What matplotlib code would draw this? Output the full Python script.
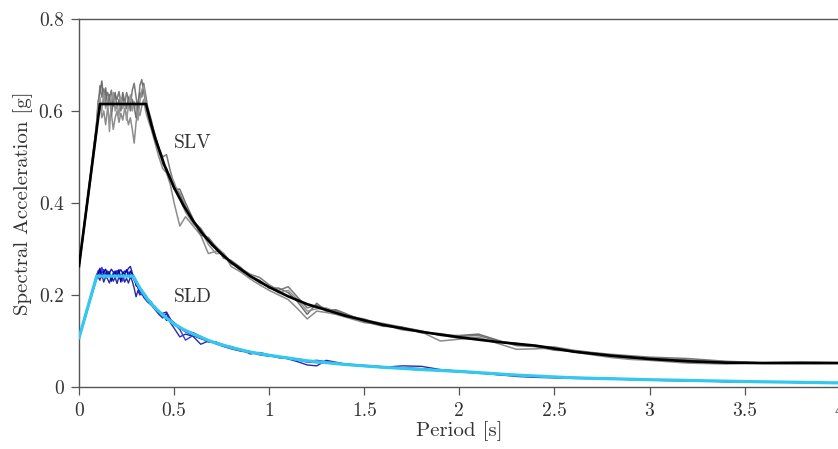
import matplotlib
matplotlib.use("Agg")
import matplotlib.pyplot as plt

plt.rcParams['font.family'] = ['cmr10', 'DejaVu Serif']
plt.rcParams['axes.formatter.use_mathtext'] = True
plt.rcParams['mathtext.fontset'] = 'cm'

# ---- period grid for the record spectra ----
periods = [0.00, 0.03, 0.06, 0.09,
           0.10, 0.11, 0.12, 0.13, 0.14, 0.15, 0.16, 0.17, 0.18, 0.19, 0.20, 0.21, 0.22, 0.23,
           0.24, 0.25, 0.26, 0.27, 0.28, 0.29, 0.30, 0.31, 0.32, 0.33, 0.34, 0.35, 0.36,
           0.38, 0.40, 0.42, 0.44, 0.46, 0.48, 0.50,
           0.53, 0.56, 0.60, 0.64, 0.68, 0.72, 0.76, 0.80,
           0.85, 0.90, 0.95, 1.00, 1.05, 1.10, 1.15, 1.20, 1.25, 1.30, 1.35, 1.40,
           1.50, 1.60, 1.70, 1.80, 1.90, 2.00,
           2.10, 2.20, 2.30, 2.40, 2.50, 2.60, 2.70, 2.80, 2.90, 3.00,
           3.20, 3.40, 3.60, 3.80, 4.00]

# ---- SLV records (gray) ----
slv_rec1 = [0.263, 0.360, 0.462, 0.565,
            0.600, 0.655, 0.630, 0.648, 0.620, 0.640, 0.628, 0.645, 0.610, 0.635, 0.625, 0.642, 0.618, 0.630,
            0.612, 0.640, 0.625, 0.610, 0.645, 0.660, 0.630, 0.600, 0.655, 0.668, 0.640, 0.620, 0.600,
            0.575, 0.548, 0.520, 0.500, 0.505, 0.470, 0.440,
            0.420, 0.392, 0.360, 0.345, 0.320, 0.305, 0.290, 0.268,
            0.258, 0.245, 0.238, 0.222, 0.210, 0.218, 0.195, 0.172, 0.178, 0.170, 0.166, 0.158,
            0.146, 0.138, 0.130, 0.118, 0.116, 0.110,
            0.112, 0.100, 0.092, 0.089, 0.087, 0.080, 0.075, 0.071, 0.068, 0.065,
            0.062, 0.056, 0.053, 0.054, 0.053]
slv_rec2 = [0.262, 0.352, 0.448, 0.545,
            0.590, 0.620, 0.585, 0.600, 0.570, 0.605, 0.580, 0.595, 0.560, 0.585, 0.600, 0.575, 0.595, 0.580,
            0.605, 0.590, 0.570, 0.585, 0.560, 0.530, 0.575, 0.600, 0.590, 0.610, 0.625, 0.600, 0.585,
            0.560, 0.530, 0.500, 0.475, 0.465, 0.440, 0.400,
            0.350, 0.370, 0.350, 0.330, 0.290, 0.295, 0.290, 0.262,
            0.250, 0.235, 0.222, 0.210, 0.200, 0.190, 0.170, 0.148, 0.165, 0.162, 0.158, 0.152,
            0.140, 0.136, 0.124, 0.120, 0.100, 0.104,
            0.108, 0.095, 0.082, 0.083, 0.085, 0.076, 0.070, 0.064, 0.060, 0.058,
            0.052, 0.050, 0.053, 0.055, 0.053]
slv_rec3 = [0.264, 0.365, 0.458, 0.560,
            0.620, 0.640, 0.665, 0.620, 0.650, 0.610, 0.635, 0.590, 0.620, 0.640, 0.605, 0.625, 0.600, 0.640,
            0.620, 0.605, 0.630, 0.600, 0.625, 0.610, 0.585, 0.620, 0.640, 0.630, 0.660, 0.635, 0.610,
            0.580, 0.545, 0.520, 0.485, 0.475, 0.455, 0.430,
            0.430, 0.400, 0.365, 0.330, 0.325, 0.305, 0.280, 0.275,
            0.260, 0.240, 0.232, 0.215, 0.215, 0.205, 0.185, 0.158, 0.182, 0.165, 0.168, 0.160,
            0.142, 0.132, 0.130, 0.122, 0.112, 0.112,
            0.115, 0.102, 0.090, 0.088, 0.080, 0.078, 0.074, 0.069, 0.066, 0.063,
            0.059, 0.055, 0.052, 0.053, 0.052]
slv_rec4 = [0.263, 0.355, 0.450, 0.555,
            0.610, 0.630, 0.600, 0.640, 0.605, 0.625, 0.555, 0.620, 0.640, 0.600, 0.615, 0.590, 0.630, 0.605,
            0.620, 0.580, 0.610, 0.635, 0.600, 0.620, 0.610, 0.580, 0.620, 0.645, 0.655, 0.625, 0.590,
            0.565, 0.540, 0.510, 0.490, 0.470, 0.460, 0.445,
            0.410, 0.380, 0.355, 0.340, 0.310, 0.290, 0.290, 0.272,
            0.252, 0.243, 0.226, 0.220, 0.205, 0.210, 0.190, 0.165, 0.170, 0.172, 0.162, 0.155,
            0.148, 0.134, 0.128, 0.121, 0.113, 0.106,
            0.104, 0.099, 0.095, 0.088, 0.082, 0.079, 0.073, 0.066, 0.062, 0.060,
            0.055, 0.053, 0.052, 0.052, 0.052]

# ---- SLD records (blue) ----
sld_rec1 = [0.107, 0.152, 0.196, 0.240,
            0.250, 0.258, 0.248, 0.255, 0.245, 0.252, 0.248, 0.256, 0.250, 0.246, 0.253, 0.249, 0.255, 0.247,
            0.252, 0.250, 0.258, 0.262, 0.248, 0.232, 0.225, 0.215, 0.205, 0.210, 0.200, 0.195, 0.190,
            0.180, 0.175, 0.162, 0.160, 0.163, 0.148, 0.135,
            0.128, 0.122, 0.118, 0.110, 0.100, 0.098, 0.090, 0.087,
            0.082, 0.072, 0.075, 0.070, 0.066, 0.064, 0.060, 0.056, 0.058, 0.055, 0.052, 0.050,
            0.047, 0.044, 0.042, 0.040, 0.036, 0.033,
            0.030, 0.027, 0.025, 0.023, 0.021, 0.020, 0.019, 0.018, 0.017, 0.016,
            0.014, 0.012, 0.011, 0.010, 0.009]
sld_rec2 = [0.106, 0.148, 0.190, 0.232,
            0.240, 0.232, 0.245, 0.228, 0.240, 0.235, 0.226, 0.242, 0.230, 0.238, 0.225, 0.240, 0.232, 0.244,
            0.228, 0.236, 0.226, 0.240, 0.230, 0.215, 0.196, 0.210, 0.200, 0.205, 0.195, 0.190, 0.185,
            0.178, 0.168, 0.158, 0.150, 0.160, 0.140, 0.128,
            0.109, 0.115, 0.110, 0.093, 0.100, 0.094, 0.088, 0.083,
            0.078, 0.075, 0.070, 0.067, 0.066, 0.061, 0.055, 0.048, 0.046, 0.058, 0.054, 0.050,
            0.046, 0.043, 0.046, 0.045, 0.038, 0.034,
            0.032, 0.027, 0.023, 0.021, 0.020, 0.019, 0.018, 0.018, 0.016, 0.015,
            0.013, 0.012, 0.011, 0.010, 0.009]
sld_rec3 = [0.108, 0.151, 0.194, 0.238,
            0.252, 0.245, 0.260, 0.248, 0.238, 0.250, 0.244, 0.235, 0.248, 0.240, 0.250, 0.236, 0.245, 0.230,
            0.246, 0.240, 0.250, 0.245, 0.238, 0.235, 0.228, 0.220, 0.212, 0.200, 0.205, 0.198, 0.192,
            0.185, 0.170, 0.166, 0.155, 0.150, 0.145, 0.138,
            0.125, 0.102, 0.112, 0.105, 0.102, 0.096, 0.092, 0.085,
            0.080, 0.077, 0.073, 0.068, 0.064, 0.063, 0.059, 0.054, 0.053, 0.054, 0.050, 0.049,
            0.045, 0.042, 0.041, 0.039, 0.035, 0.033,
            0.031, 0.029, 0.026, 0.024, 0.022, 0.021, 0.020, 0.019, 0.017, 0.016,
            0.014, 0.013, 0.011, 0.010, 0.009]
sld_rec4 = [0.107, 0.147, 0.192, 0.235,
            0.245, 0.255, 0.238, 0.250, 0.256, 0.243, 0.250, 0.230, 0.245, 0.252, 0.240, 0.255, 0.228, 0.250,
            0.245, 0.255, 0.240, 0.252, 0.245, 0.240, 0.220, 0.218, 0.210, 0.212, 0.198, 0.200, 0.190,
            0.182, 0.174, 0.160, 0.158, 0.145, 0.146, 0.140,
            0.128, 0.120, 0.112, 0.106, 0.098, 0.097, 0.090, 0.088,
            0.080, 0.077, 0.071, 0.070, 0.064, 0.062, 0.061, 0.057, 0.055, 0.052, 0.052, 0.048,
            0.046, 0.044, 0.040, 0.037, 0.037, 0.035,
            0.031, 0.029, 0.025, 0.022, 0.021, 0.020, 0.019, 0.017, 0.017, 0.016,
            0.014, 0.012, 0.011, 0.010, 0.009]

# ---- target spectra ----
slv_target_T = [0.00, 0.11, 0.352, 0.38, 0.40, 0.45, 0.50, 0.55, 0.60, 0.65, 0.70, 0.75, 0.80, 0.90,
                1.00, 1.10, 1.20, 1.40, 1.60, 1.80, 2.00, 2.20, 2.40, 2.60, 2.80, 3.00, 3.20, 3.40,
                3.60, 3.80, 4.00]
slv_target = [0.263, 0.615, 0.615, 0.570, 0.541, 0.481, 0.433, 0.394, 0.361, 0.333, 0.309, 0.289,
              0.271, 0.241, 0.217, 0.197, 0.180, 0.155, 0.135, 0.120, 0.108, 0.098, 0.090, 0.077,
              0.068, 0.061, 0.056, 0.053, 0.052, 0.052, 0.052]
sld_target_T = [0.00, 0.093, 0.285, 0.32, 0.36, 0.40, 0.45, 0.50, 0.55, 0.60, 0.70, 0.80, 0.90,
                1.00, 1.20, 1.40, 1.60, 1.80, 2.00, 2.30, 2.60, 3.00, 3.50, 4.00]
sld_target = [0.107, 0.241, 0.241, 0.215, 0.191, 0.172, 0.153, 0.137, 0.125, 0.115, 0.098, 0.086,
              0.076, 0.069, 0.057, 0.049, 0.043, 0.038, 0.034, 0.026, 0.020, 0.016, 0.012, 0.009]

slv_records = [slv_rec1, slv_rec2, slv_rec3, slv_rec4]
sld_records = [sld_rec1, sld_rec2, sld_rec3, sld_rec4]
gray_colors = ['#7a7a7a', '#8c8c8c', '#6e6e6e', '#959595']
blue_colors = ['#1c1cc8', '#2a2aa8', '#3a3ae0', '#0a0a9a']

fig = plt.figure(figsize=(8.38, 4.49), dpi=100)
ax = fig.add_axes([0.0943, 0.138, 0.9077, 0.82])

for rec, c in zip(slv_records, gray_colors):
    ax.plot(periods, rec, color=c, lw=1.1, zorder=2)
ax.plot(slv_target_T, slv_target, color='black', lw=1.9, zorder=3)

for rec, c in zip(sld_records, blue_colors):
    ax.plot(periods, rec, color=c, lw=1.0, zorder=4)
ax.plot(sld_target_T, sld_target, color='#35c8ef', lw=2.3, zorder=5)

ax.text(0.5, 0.53, 'SLV', fontsize=14, color='#333333', va='center', ha='left')
ax.text(0.5, 0.196, 'SLD', fontsize=14, color='#333333', va='center', ha='left')

ax.set_xlim(0, 4)
ax.set_ylim(0, 0.8)
ax.set_xticks([0, 0.5, 1, 1.5, 2, 2.5, 3, 3.5, 4])
ax.set_xticklabels(['0', '0.5', '1', '1.5', '2', '2.5', '3', '3.5', '4'])
ax.set_yticks([0, 0.2, 0.4, 0.6, 0.8])
ax.set_yticklabels(['0', '0.2', '0.4', '0.6', '0.8'])
ax.tick_params(direction='out', length=6, width=0.9, colors='#555555', labelcolor='#333333',
               labelsize=14, pad=5)
for s in ['left', 'bottom', 'top']:
    ax.spines[s].set_color('#555555')
    ax.spines[s].set_linewidth(1.0)
ax.spines['right'].set_visible(False)

ax.set_xlabel('Period [s]', fontsize=15, color='#333333', labelpad=1)
ax.set_ylabel('Spectral Acceleration [g]', fontsize=15, color='#333333', labelpad=4)

fig.savefig('out.png', dpi=100)
